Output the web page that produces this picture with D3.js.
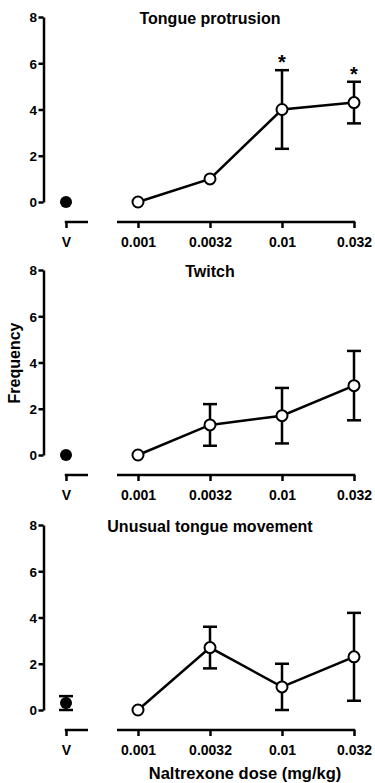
<!DOCTYPE html>
<html>
<head>
<meta charset="utf-8">
<script src="https://cdn.jsdelivr.net/npm/d3@7"></script>
<style>
  body { margin: 0; background: #fff; }
  svg { display: block; font-family: Arial, "Liberation Sans", sans-serif; }
</style>
</head>
<body>
<script>
// categories on the x axis (V = vehicle)
let doses = ["V", "0.001", "0.0032", "0.01", "0.032"]
let yTicks = [0, 2, 4, 6, 8]

let titles = ["Tongue protrusion", "Twitch", "Unusual tongue movement"]

// mean and error (+/-) for each dose, per panel
let tongueMean = [0, 0, 1, 4, 4.3]
let tongueErr  = [0, 0, 0, 1.7, 0.9]
let twitchMean = [0, 0, 1.3, 1.7, 3.0]
let twitchErr  = [0, 0, 0.9, 1.2, 1.5]
let unusualMean = [0.3, 0, 2.7, 1.0, 2.3]
let unusualErr  = [0.3, 0, 0.9, 1.0, 1.9]

// significance marks
let tongueStars = ["", "", "", "*", "*"]

var width = 375, height = 783

var svg = d3.select("body")
            .append("svg")
            .attr("width", width)
            .attr("height", height)

var x = d3.scalePoint()
          .domain(doses)
          .range([66, 354])

var panels = [
  {title: titles[0], mean: tongueMean, err: tongueErr, stars: tongueStars, top: 17},
  {title: titles[1], mean: twitchMean, err: twitchErr, stars: null, top: 270},
  {title: titles[2], mean: unusualMean, err: unusualErr, stars: null, top: 525}
]

var ph = 185, axisX = 43.5

panels.forEach(function(p, pi) {
  var g = svg.append("g")

  var y = d3.scaleLinear()
            .domain([0, 8])
            .range([p.top + ph, p.top])

  // y axis
  var yAxis = d3.axisLeft(y)
                .tickValues(yTicks)
                .tickSize(5)
                .tickSizeOuter(0)
                .tickPadding(1.5)
  var ya = g.append("g")
            .attr("transform", "translate(" + axisX + ",0)")
            .call(yAxis)
  ya.selectAll("path, line").attr("stroke", "#000").attr("stroke-width", 2.5)
  ya.selectAll("text")
    .attr("dy", "0.36em")
    .style("font-size", "13.5px")
    .style("font-weight", "bold")
    .attr("fill", "#000")

  // x axis, broken into a vehicle piece and a dose piece
  var xy = p.top + ph + 20
  var xAxis = d3.axisBottom(x)
                .tickSize(6)
                .tickPadding(9)
  var xa = g.append("g")
            .attr("transform", "translate(0," + xy + ")")
            .call(xAxis)
  xa.select(".domain").remove()
  xa.selectAll("line").attr("stroke", "#000").attr("stroke-width", 2.5)
  xa.selectAll("text")
    .style("font-size", "14px")
    .style("font-weight", "bold")
    .attr("fill", "#000")
  var segs = [[x("V") - 1.25, x("V") + 22], [x("0.001") - 21, x(doses[4]) + 1.25]]
  xa.selectAll(".seg")
    .data(segs)
    .enter().append("line")
    .attr("x1", d => d[0])
    .attr("x2", d => d[1])
    .attr("y1", 0).attr("y2", 0)
    .attr("stroke", "#000")
    .attr("stroke-width", 2.5)

  // title
  g.append("text")
   .attr("x", 210)
   .attr("y", p.top + 7)
   .attr("text-anchor", "middle")
   .attr("font-size", 16)
   .attr("font-weight", "bold")
   .text(p.title)

  var pts = doses.map((d, i) => ({dose: d, m: p.mean[i], e: p.err[i], star: p.stars ? p.stars[i] : ""}))

  // error bars
  var eb = g.selectAll(".eb")
            .data(pts.filter(d => d.e > 0))
            .enter().append("g")
  eb.append("line")
    .attr("x1", d => x(d.dose)).attr("x2", d => x(d.dose))
    .attr("y1", d => y(d.m - d.e)).attr("y2", d => y(d.m + d.e))
    .attr("stroke", "#000").attr("stroke-width", 2.5)
  eb.append("line")
    .attr("x1", d => x(d.dose) - 7).attr("x2", d => x(d.dose) + 7)
    .attr("y1", d => y(d.m + d.e)).attr("y2", d => y(d.m + d.e))
    .attr("stroke", "#000").attr("stroke-width", 2.5)
  eb.append("line")
    .attr("x1", d => x(d.dose) - 7).attr("x2", d => x(d.dose) + 7)
    .attr("y1", d => y(d.m - d.e)).attr("y2", d => y(d.m - d.e))
    .attr("stroke", "#000").attr("stroke-width", 2.5)

  // line through the dose points (not vehicle)
  var line = d3.line()
               .x(d => x(d.dose))
               .y(d => y(d.m))
  g.append("path")
   .datum(pts.slice(1))
   .attr("d", line)
   .attr("fill", "none")
   .attr("stroke", "#000")
   .attr("stroke-width", 2.5)

  // markers
  g.selectAll(".pt")
   .data(pts)
   .enter().append("circle")
   .attr("cx", d => x(d.dose))
   .attr("cy", d => y(d.m))
   .attr("r", d => d.dose == "V" ? 6 : 5.5)
   .attr("fill", d => d.dose == "V" ? "#000" : "#fff")
   .attr("stroke", "#000")
   .attr("stroke-width", d => d.dose == "V" ? 0 : 2)

  // asterisks
  g.selectAll(".star")
   .data(pts.filter(d => d.star))
   .enter().append("text")
   .attr("x", d => x(d.dose))
   .attr("y", d => y(d.m + d.e) - 1)
   .attr("text-anchor", "middle")
   .attr("font-size", 20)
   .attr("font-weight", "bold")
   .text(d => d.star)
})

// y axis title
svg.append("text")
   .attr("transform", "translate(20,363) rotate(-90)")
   .attr("text-anchor", "middle")
   .attr("font-size", 16)
   .attr("font-weight", "bold")
   .text("Frequency")

// x axis title
svg.append("text")
   .attr("x", 245)
   .attr("y", 779)
   .attr("text-anchor", "middle")
   .attr("font-size", 16.5)
   .attr("font-weight", "bold")
   .text("Naltrexone dose (mg/kg)")
</script>
</body>
</html>
